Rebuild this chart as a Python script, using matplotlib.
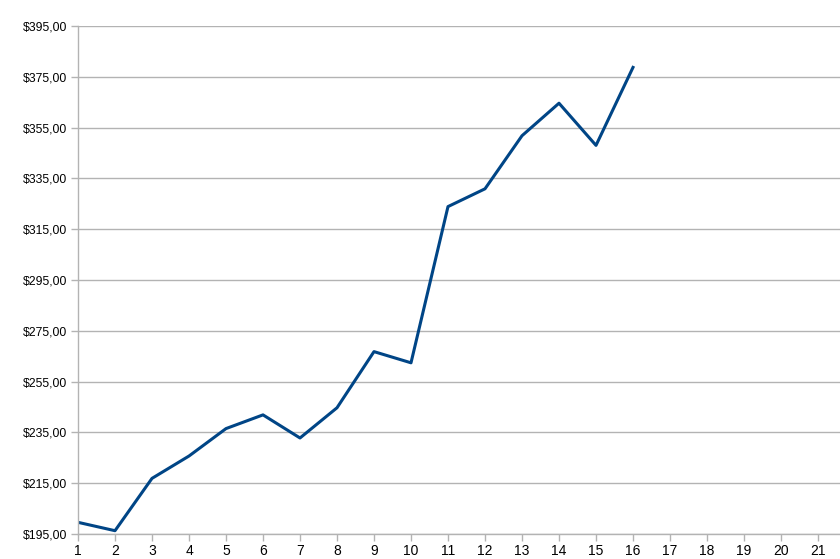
import matplotlib
matplotlib.use('Agg')
import matplotlib.pyplot as plt
from matplotlib.ticker import FuncFormatter

periods = list(range(1, 17))
prices = [199.6, 196.3, 216.9, 225.7, 236.5, 241.9, 232.8, 244.7,
          266.8, 262.4, 323.9, 330.9, 351.8, 364.6, 348.0, 378.7]
x_ticks = list(range(1, 22))
y_ticks = list(range(195, 396, 20))

plt.rcParams['font.family'] = ['Liberation Sans', 'DejaVu Sans']


def money(v, pos):
    return ('$%.2f' % v).replace('.', ',')


fig = plt.figure(figsize=(8.4, 5.59), dpi=100)
ax = fig.add_axes([78/840, 25/559, 1 - 78/840, 508/559])

ax.plot(periods, prices, color='#004586', linewidth=2.2)

ax.set_xlim(1, 1 + 762/37)
ax.set_ylim(195, 395)
ax.set_xticks(x_ticks)
ax.set_yticks(y_ticks)
ax.yaxis.set_major_formatter(FuncFormatter(money))

ax.grid(axis='y', color='#b3b3b3', linewidth=1)
ax.set_axisbelow(True)
for s in ['top', 'right']:
    ax.spines[s].set_visible(False)
for s in ['left', 'bottom']:
    ax.spines[s].set_color('#b3b3b3')
    ax.spines[s].set_linewidth(1)
ax.tick_params(axis='both', colors='#b3b3b3', labelcolor='black',
               length=5, width=1, direction='out')
ax.tick_params(axis='y', pad=2.5, labelsize=8.8)
ax.tick_params(axis='x', pad=2.5, labelsize=10)

fig.savefig('out.png', dpi=100)
